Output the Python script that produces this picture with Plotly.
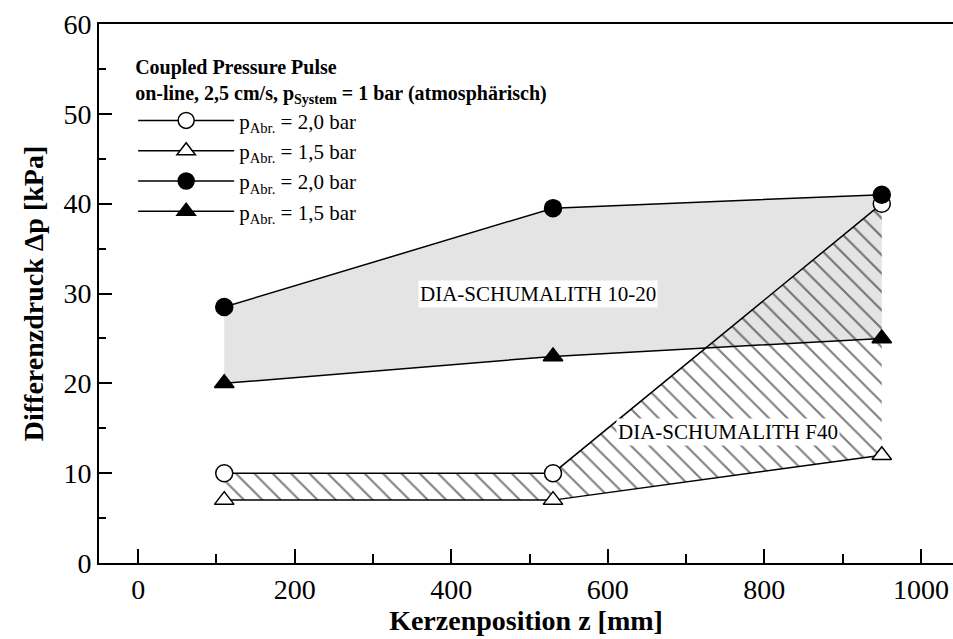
import plotly.graph_objects as go

# Data
z_pos = [110, 530, 950]
f40_p20 = [10, 10, 40]      # open circle
f40_p15 = [7, 7, 12]        # open triangle
d1020_p20 = [28.5, 39.5, 41]  # filled circle
d1020_p15 = [20, 23, 25]      # filled triangle

legend_labels = ["p<sub>Abr.</sub> = 2,0 bar", "p<sub>Abr.</sub> = 1,5 bar",
                 "p<sub>Abr.</sub> = 2,0 bar", "p<sub>Abr.</sub> = 1,5 bar"]

FONT = "Liberation Serif"

fig = go.Figure()

# grey band DIA-SCHUMALITH 10-20
fig.add_trace(go.Scatter(
    x=z_pos + z_pos[::-1], y=d1020_p20 + d1020_p15[::-1],
    fill="toself", fillcolor="#e4e4e4", mode="none",
    showlegend=False, hoverinfo="skip"))

# hatched band DIA-SCHUMALITH F40
fig.add_trace(go.Scatter(
    x=z_pos + z_pos[::-1], y=f40_p20 + f40_p15[::-1],
    fill="toself", fillcolor="rgba(0,0,0,0)", mode="none",
    fillpattern=dict(shape="\\", fgcolor="black", bgcolor="rgba(0,0,0,0)",
                     size=13, solidity=0.16),
    showlegend=False, hoverinfo="skip"))

series = [
    (f40_p20, "circle", "white"),
    (f40_p15, "triangle-up", "white"),
    (d1020_p20, "circle", "black"),
    (d1020_p15, "triangle-up", "black"),
]
for (vals, sym, col), lab in zip(series, legend_labels):
    fig.add_trace(go.Scatter(
        x=z_pos, y=vals, mode="lines+markers", name=lab,
        line=dict(color="black", width=1.5),
        marker=dict(symbol=sym, size=17, color=col,
                    line=dict(color="black", width=1.5))))

fig.add_annotation(x=511, y=30, text="DIA-SCHUMALITH 10-20", showarrow=False,
                   bgcolor="white", font=dict(family=FONT, size=21, color="black"),
                   borderpad=1)
fig.add_annotation(x=753, y=14.6, text="DIA-SCHUMALITH F40", showarrow=False,
                   bgcolor="white", font=dict(family=FONT, size=21, color="black"),
                   borderpad=1)

fig.update_layout(
    width=953, height=639,
    margin=dict(l=99, r=0, t=24, b=76),
    paper_bgcolor="white", plot_bgcolor="white",
    font=dict(family=FONT, color="black", size=21),
    legend=dict(
        x=0.04, y=0.955, xanchor="left", yanchor="top",
        bgcolor="rgba(0,0,0,0)",
        title=dict(text="<b>Coupled Pressure Pulse<br>on-line, 2,5 cm/s, p<sub>System</sub> = 1 bar (atmosphärisch)</b>",
                   font=dict(family=FONT, size=20), side="top"),
        font=dict(family=FONT, size=21),
        itemwidth=96, tracegroupgap=0),
    xaxis=dict(
        range=[-50, 1041], showgrid=False, zeroline=False,
        showline=True, linecolor="black", linewidth=2, mirror=True,
        ticks="inside", ticklen=14, tickwidth=2, tickcolor="black",
        tick0=0, dtick=200,
        minor=dict(ticks="inside", ticklen=9, tickwidth=2, tickcolor="black", dtick=100, tick0=0),
        tickfont=dict(family=FONT, size=28),
        title=dict(text="<b>Kerzenposition z [mm]</b>", font=dict(family=FONT, size=28), standoff=4),
    ),
    yaxis=dict(
        range=[0, 60], showgrid=False, zeroline=False,
        showline=True, linecolor="black", linewidth=2, mirror=False,
        ticks="inside", ticklen=13, tickwidth=2, tickcolor="black",
        tick0=0, dtick=10,
        minor=dict(ticks="inside", ticklen=7, tickwidth=2, tickcolor="black", dtick=5, tick0=0),
        tickfont=dict(family=FONT, size=28),
        title=dict(text="<b>Differenzdruck Δp [kPa]</b>", font=dict(family=FONT, size=28), standoff=12),
    ),
)

fig.write_html("out.html")
